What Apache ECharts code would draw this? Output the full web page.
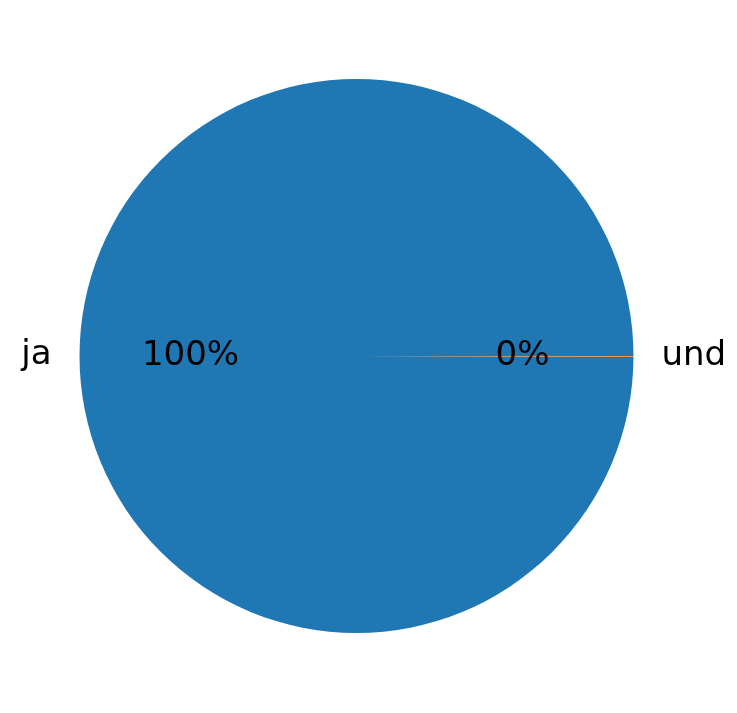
<!DOCTYPE html>
<html>
<head>
<meta charset="utf-8">
<script src="https://cdn.jsdelivr.net/npm/echarts@6/dist/echarts.min.js"></script>
<style>html,body{margin:0;padding:0;background:#fff}#c{width:737px;height:713px}</style>
</head>
<body>
<div id="c"></div>
<script>
const categories = ['ja', 'und'];
const values = [2000, 1];
const colors = ['#1f77b4', '#ff7f0e'];

const data = categories.map((c, i) => ({ name: c, value: values[i], itemStyle: { color: colors[i] } }));
const labelData = categories.map((c, i) => ({ name: c, value: values[i] }));

const chart = echarts.init(document.getElementById('c'));
const R = 277;
chart.setOption({
  animation: false,
  series: [
    {
      type: 'pie',
      center: [356.5, 356],
      radius: [0, R],
      startAngle: 0,
      clockwise: false,
      avoidLabelOverlap: false,
      silent: true,
      itemStyle: { borderWidth: 0 },
      label: {
        show: true,
        position: 'outside',
        formatter: '{b}',
        fontFamily: 'DejaVu Sans',
        fontSize: 34,
        color: '#000',
        padding: [5, 0, 0, 0],
        distanceToLabelLine: 5
      },
      labelLine: { show: false, length: 23, length2: 0 },
      emphasis: { disabled: true },
      data: data
    },
    {
      type: 'pie',
      center: [356.5, 356],
      radius: [0, 326],
      startAngle: 0,
      clockwise: false,
      avoidLabelOverlap: false,
      silent: true,
      z: 5,
      itemStyle: { color: 'rgba(0,0,0,0)', borderWidth: 0 },
      label: {
        show: true,
        position: 'inside',
        rotate: 0,
        formatter: p => Math.round(p.percent) + '%',
        fontFamily: 'DejaVu Sans',
        fontSize: 34,
        padding: [5, 0, 0, 0],
        color: '#000'
      },
      labelLine: { show: false },
      emphasis: { disabled: true },
      data: labelData
    }
  ]
});
</script>
</body>
</html>
